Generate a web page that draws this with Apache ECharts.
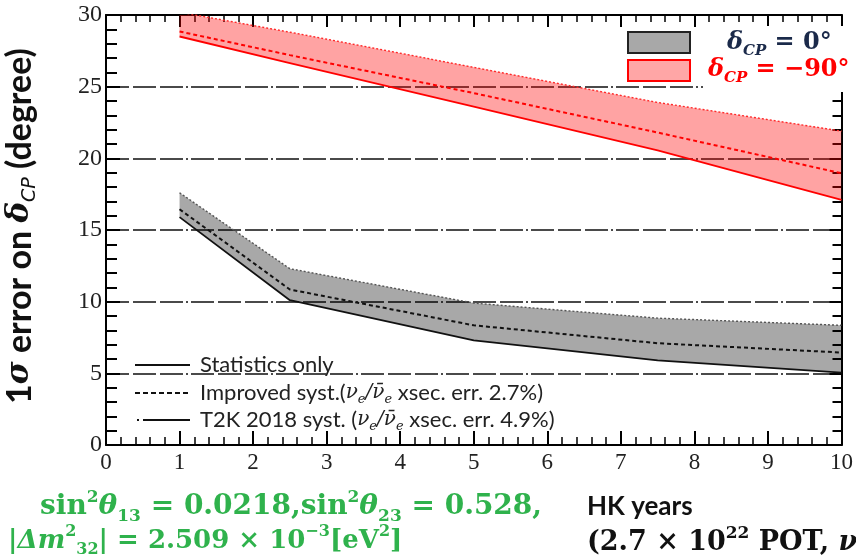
<!DOCTYPE html>
<html>
<head>
<meta charset="utf-8">
<script src="https://cdn.jsdelivr.net/npm/echarts@6/dist/echarts.min.js"></script>
<style>
html, body { margin: 0; padding: 0; background: #fff; }
#chart { width: 856px; height: 560px; }
</style>
</head>
<body>
<div id="chart"></div>
<script>
// Hyper-K running time (years) at which the δCP resolution is evaluated
const years = [1, 2.5, 5, 7.5, 10];

// δCP = 0°: 1σ error (degree)
const cp0Stat = [15.9, 10.1, 7.3, 5.9, 5.05];
const cp0Improved = [16.45, 10.85, 8.35, 7.1, 6.45];
const cp0T2K = [17.6, 12.3, 9.9, 8.85, 8.35];

// δCP = -90°: 1σ error (degree)
const cp90Stat = [28.5, 26.65, 23.6, 20.55, 17.1];
const cp90Improved = [28.85, 27.2, 24.55, 21.8, 18.96];
const cp90T2K = [30.2, 28.8, 26.35, 23.9, 21.9];

// axis ranges and tick steps
const xRange = [0, 10];
const xStep = 1;
const yRange = [0, 30];
const yStep = 5;

const pts = (ys) => years.map((x, i) => [x, ys[i]]);

const chart = echarts.init(document.getElementById('chart'), null, { renderer: 'canvas' });

const gridDash = [23, 4, 23, 4, 23, 3, 2, 3];
const frame = { show: true, onZero: false, lineStyle: { color: '#000', width: 2 } };

// shaded region between the statistics-only curve and the T2K 2018 systematics curve
function bandFill(lo, hi, fill) {
  return {
    type: 'custom',
    coordinateSystem: 'cartesian2d',
    data: [[0, 0]],
    silent: true,
    z: 1,
    renderItem: (params, api) => {
      const upper = years.map((x, i) => api.coord([x, hi[i]]));
      const lower = years.map((x, i) => api.coord([x, lo[i]])).reverse();
      const cs = params.coordSys;
      return {
        type: 'polygon',
        shape: { points: upper.concat(lower) },
        style: { fill: fill },
        clipPath: { type: 'rect', shape: { x: cs.x, y: cs.y, width: cs.width, height: cs.height } }
      };
    }
  };
}

function curve(ys, color, width, type, z) {
  return {
    type: 'line', data: pts(ys), symbol: 'none', z: z, silent: true,
    lineStyle: { color: color, width: width, type: type }
  };
}

const green = '#2fb24c';

function richSet(color, size) {
  const sub = Math.round(size * 0.62);
  return {
    n: { fontFamily: 'DejaVu Serif', fontWeight: 'bold', fontSize: size, lineHeight: size + 8, fill: color },
    i: { fontFamily: 'DejaVu Serif', fontStyle: 'italic', fontWeight: 'bold', fontSize: size, lineHeight: size + 8, fill: color },
    p: { fontFamily: 'DejaVu Serif', fontWeight: 'bold', fontSize: sub, lineHeight: sub, verticalAlign: 'top', fill: color },
    b: { fontFamily: 'DejaVu Serif', fontWeight: 'bold', fontSize: sub, lineHeight: sub, verticalAlign: 'bottom', fill: color },
    s: { fontFamily: 'DejaVu Serif', fontStyle: 'italic', fontWeight: 'bold', fontSize: sub, lineHeight: sub, verticalAlign: 'bottom', fill: color }
  };
}

function keyText(prefix, pct) {
  return '{n|' + prefix + '}{g|ν}{s|e}{g|/ν̄}{s|e}{n| xsec. err. ' + pct + ')}';
}
const keyRich = {
  n: { fontFamily: 'Lato', fontSize: 22, lineHeight: 26, fill: '#222' },
  g: { fontFamily: 'DejaVu Serif', fontStyle: 'italic', fontSize: 20, lineHeight: 26, fill: '#222' },
  s: { fontFamily: 'DejaVu Serif', fontStyle: 'italic', fontSize: 13, lineHeight: 13, verticalAlign: 'bottom', fill: '#222' }
};

const option = {
  animation: false,
  backgroundColor: '#fff',
  grid: { left: 106, right: 4, top: 15, bottom: 115, containLabel: false },
  xAxis: [
    {
      type: 'value', min: xRange[0], max: xRange[1], interval: xStep,
      axisLine: frame,
      axisTick: { show: true, inside: true, length: 14, lineStyle: { color: '#000', width: 2 } },
      minorTick: { show: true, splitNumber: 5, length: 8, lineStyle: { color: '#000', width: 1.5 } },
      axisLabel: { color: '#222', fontFamily: 'Liberation Serif', fontSize: 23, margin: 6 },
      splitLine: { show: false }
    },
    {
      type: 'value', position: 'top', min: xRange[0], max: xRange[1], interval: xStep,
      axisLine: frame,
      axisTick: { show: true, inside: true, length: 12, lineStyle: { color: '#000', width: 2 } },
      minorTick: { show: true, splitNumber: 5, length: 7, lineStyle: { color: '#000', width: 1.5 } },
      axisLabel: { show: false },
      splitLine: { show: false }
    }
  ],
  yAxis: [
    {
      type: 'value', min: yRange[0], max: yRange[1], interval: yStep,
      axisLine: frame,
      axisTick: { show: true, inside: true, length: 14, lineStyle: { color: '#000', width: 2 } },
      minorTick: { show: true, splitNumber: 5, length: 11, lineStyle: { color: '#000', width: 2 } },
      axisLabel: { color: '#222', fontFamily: 'Liberation Serif', fontSize: 24, margin: 4 },
      splitLine: { show: true, lineStyle: { color: '#4a4a4a', width: 2, type: gridDash } }
    },
    {
      type: 'value', position: 'right', min: yRange[0], max: yRange[1], interval: yStep,
      axisLine: frame,
      axisTick: { show: true, inside: true, length: 12, lineStyle: { color: '#000', width: 2 } },
      minorTick: { show: true, splitNumber: 5, length: 9, lineStyle: { color: '#000', width: 2 } },
      axisLabel: { show: false },
      splitLine: { show: false }
    }
  ],
  series: [
    bandFill(cp0Stat, cp0T2K, 'rgba(0,0,0,0.34)'),
    curve(cp0T2K, '#555', 1.4, [2, 2], 3),
    curve(cp0Improved, '#111', 2, [4, 3], 4),
    curve(cp0Stat, '#111', 1.8, 'solid', 4),
    bandFill(cp90Stat, cp90T2K, 'rgba(255,0,0,0.36)'),
    curve(cp90T2K, '#ff2a2a', 1.4, [2, 2], 3),
    curve(cp90Improved, '#ff0000', 2, [4, 3], 4),
    curve(cp90Stat, '#ff0000', 1.8, 'solid', 4)
  ],
  graphic: [
    // white panel behind the δCP key
    { type: 'rect', z: 100, shape: { x: 703, y: 26, width: 153, height: 66 }, style: { fill: '#fff' } },
    { type: 'rect', z: 101, shape: { x: 628, y: 32, width: 62, height: 21 },
      style: { fill: '#a8a8a8', stroke: '#222', lineWidth: 2 } },
    { type: 'rect', z: 101, shape: { x: 628, y: 60, width: 62, height: 21 },
      style: { fill: '#ffa6a6', stroke: '#ff0000', lineWidth: 2 } },
    { type: 'text', z: 102, x: 727, y: 43,
      style: {
        text: '{i|δ}{s|CP}{n| = 0°}', fill: '#1b2a4a', align: 'left', verticalAlign: 'middle',
        textAlign: 'left', textVerticalAlign: 'middle', rich: richSet('#1b2a4a', 24)
      } },
    { type: 'text', z: 102, x: 708, y: 70,
      style: {
        text: '{i|δ}{s|CP}{n| = −90°}', fill: '#ff0000', align: 'left', verticalAlign: 'middle',
        textAlign: 'left', textVerticalAlign: 'middle', rich: richSet('#ff0000', 24)
      } },

    // line-style key
    { type: 'line', z: 50, shape: { x1: 135, y1: 365, x2: 190, y2: 365 }, style: { stroke: '#111', lineWidth: 1.8 } },
    { type: 'line', z: 50, shape: { x1: 135, y1: 393, x2: 190, y2: 393 }, style: { stroke: '#111', lineWidth: 1.8, lineDash: [5, 3] } },
    { type: 'line', z: 50, shape: { x1: 137, y1: 420, x2: 190, y2: 420 }, style: { stroke: '#111', lineWidth: 1.8, lineDash: [2, 4, 48, 0] } },
    { type: 'text', z: 50, x: 200, y: 365,
      style: { text: 'Statistics only', fill: '#222', font: '22px Lato', align: 'left', verticalAlign: 'middle', textAlign: 'left', textVerticalAlign: 'middle' } },
    { type: 'text', z: 50, x: 200, y: 393,
      style: { text: keyText('Improved syst.(', '2.7%'), align: 'left', verticalAlign: 'middle',
        textAlign: 'left', textVerticalAlign: 'middle', fill: '#222', rich: keyRich } },
    { type: 'text', z: 50, x: 200, y: 420,
      style: { text: keyText('T2K 2018 syst. (', '4.9%'), align: 'left', verticalAlign: 'middle',
        textAlign: 'left', textVerticalAlign: 'middle', fill: '#222', rich: keyRich } },

    // y-axis title
    { type: 'text', z: 50, x: 20, y: 226, rotation: Math.PI / 2,
      style: {
        text: '{n|1}{i|σ}{n| error on }{i|δ}{s|CP}{n| (degree)}', align: 'center', verticalAlign: 'middle',
        textAlign: 'center', textVerticalAlign: 'middle', fill: '#111',
        rich: {
          n: { fontFamily: 'Lato', fontWeight: 'bold', fontSize: 34, lineHeight: 40, fill: '#111' },
          i: { fontFamily: 'DejaVu Serif', fontStyle: 'italic', fontWeight: 'bold', fontSize: 31, lineHeight: 40, fill: '#111' },
          s: { fontFamily: 'DejaVu Sans', fontStyle: 'italic', fontSize: 19, lineHeight: 19, verticalAlign: 'bottom', fill: '#111' }
        }
      } },

    // oscillation parameters
    { type: 'text', z: 50, x: 40, y: 507,
      style: {
        text: '{n|sin}{p|2}{i|θ}{b|13}{n| = 0.0218,sin}{p|2}{i|θ}{b|23}{n| = 0.528,}', align: 'left', verticalAlign: 'middle',
        textAlign: 'left', textVerticalAlign: 'middle', fill: green, rich: richSet(green, 28)
      } },
    { type: 'text', z: 50, x: 8, y: 541,
      style: {
        text: '{n||}{i|Δm}{p|2}{b|32}{n|| = 2.509 × 10}{p|−3}{n|[eV}{p|2}{n|]}', align: 'left', verticalAlign: 'middle',
        textAlign: 'left', textVerticalAlign: 'middle', fill: green, rich: richSet(green, 26)
      } },

    // x-axis title
    { type: 'text', z: 50, x: 587, y: 507,
      style: { text: 'HK years', fill: '#111', font: 'bold 26px Lato', align: 'left', verticalAlign: 'middle', textAlign: 'left', textVerticalAlign: 'middle' } },
    { type: 'text', z: 50, x: 587, y: 543,
      style: {
        text: '{n|(2.7 × 10}{p|22}{n| POT, }{i|ν}{n|:}{i|ν̄}{n| = 1:3)}', align: 'left', verticalAlign: 'middle',
        textAlign: 'left', textVerticalAlign: 'middle', fill: '#111', rich: richSet('#111', 27)
      } }
  ]
};

chart.setOption(option);
</script>
</body>
</html>
